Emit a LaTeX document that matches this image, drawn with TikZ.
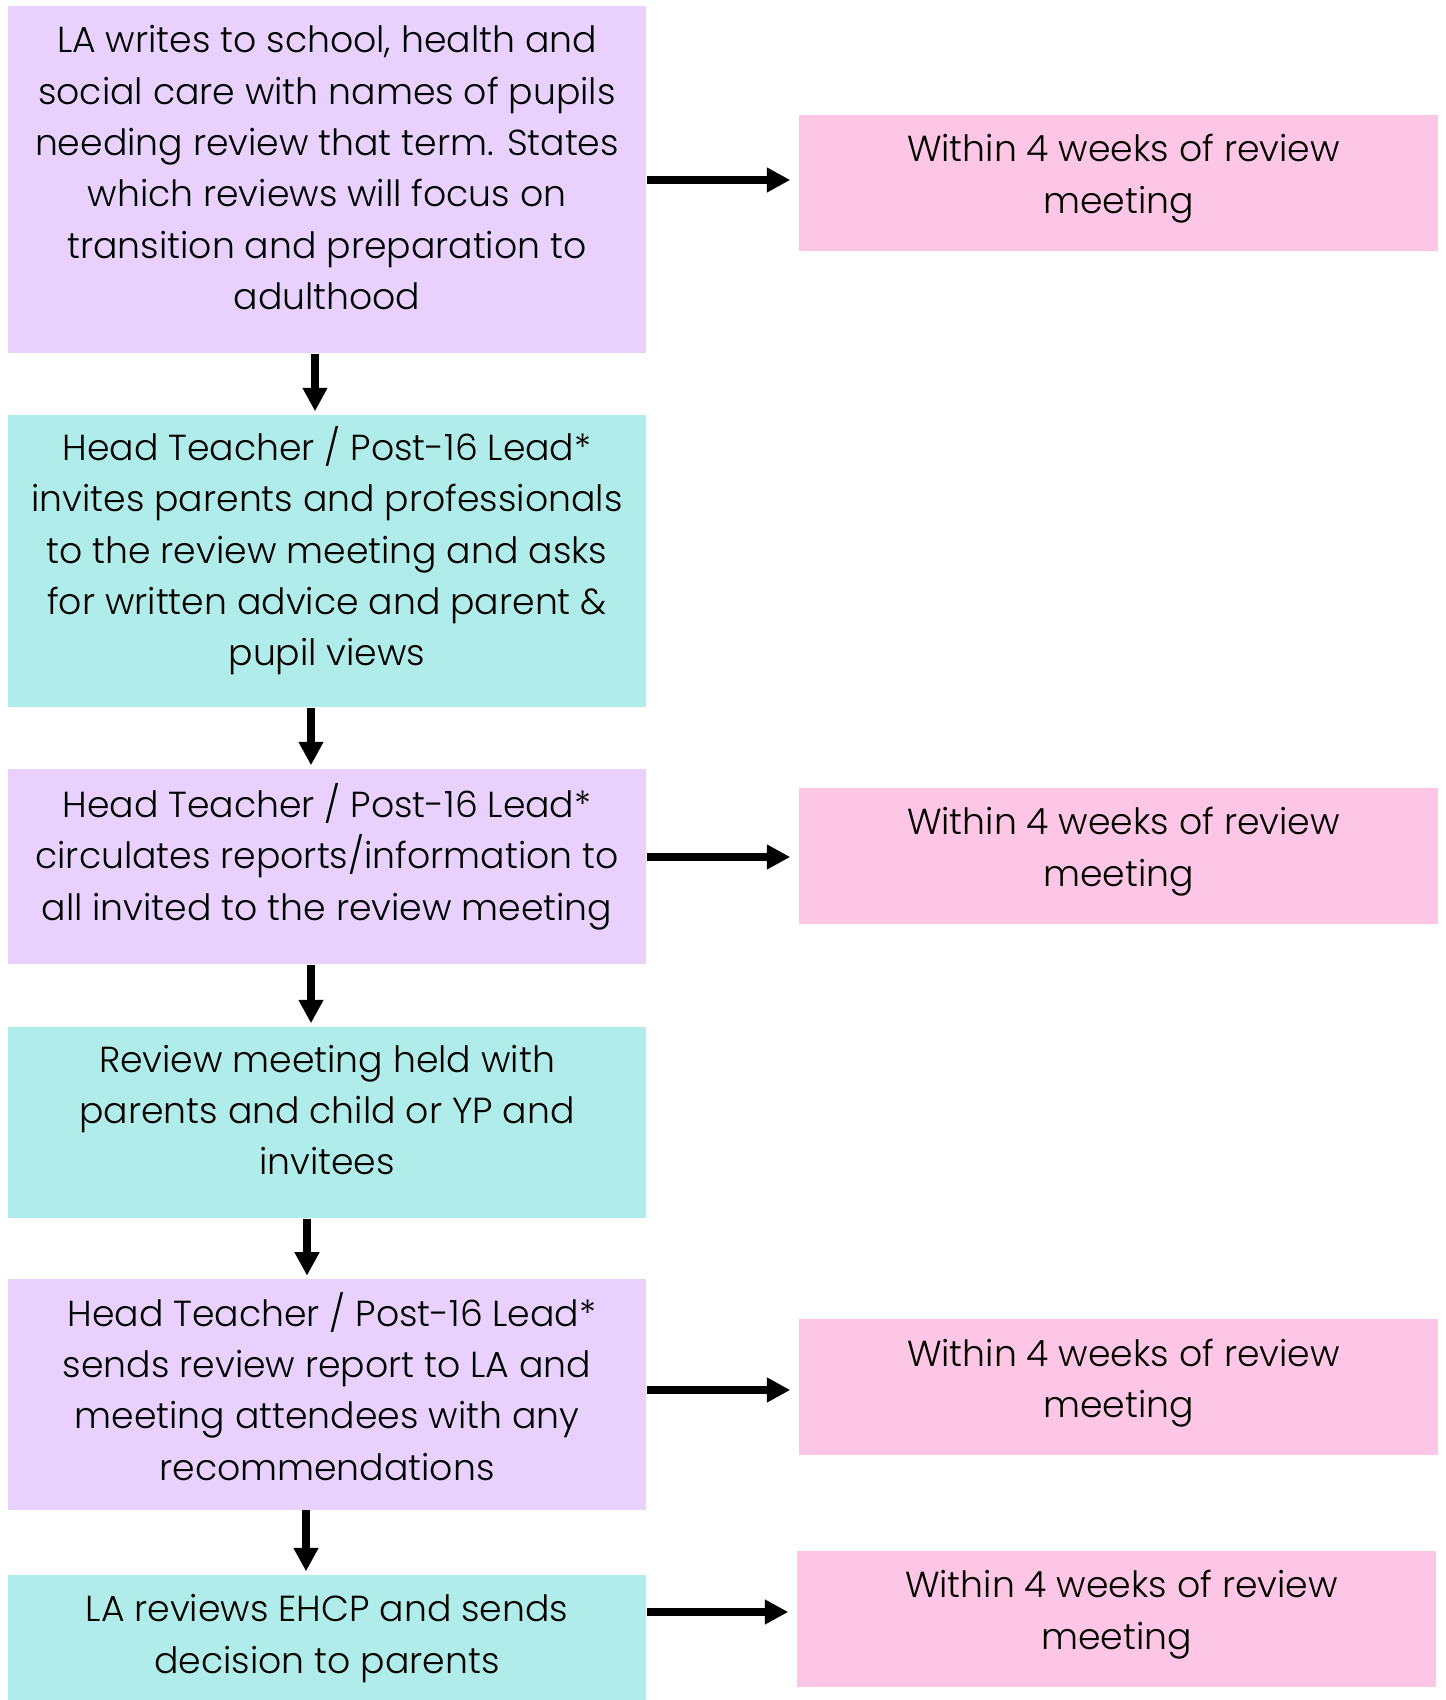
\documentclass[tikz,border=0pt]{standalone}
\usepackage{fontspec}
\setmainfont{Poppins Light}
\usetikzlibrary{arrows.meta, positioning, calc}

\definecolor{lilac}{RGB}{232,209,252}
\definecolor{aqua}{RGB}{176,236,234}
\definecolor{rose}{RGB}{252,198,228}

% fixed first/last line size, so that every box centres its lines alike
\newcommand{\tstrut}[1][0pt]{\rule[-8.4pt]{0pt}{\dimexpr17.4pt+#1\relax}}

\begin{document}
\begin{tikzpicture}[
    stage/.style={minimum width=6.38cm, inner sep=0pt, align=center,
        font=\fontsize{10.3}{14.6}\selectfont\setlength{\lineskiplimit}{-100pt}},
    lilacbox/.style={stage, fill=lilac},
    aquabox/.style={stage, fill=aqua},
    timebox/.style={stage, fill=rose, minimum width=6.39cm, minimum height=1.36cm},
    flow/.style={line width=2.4pt, -{Triangle[length=0.235cm, width=0.235cm]}, shorten >=0.03cm},
    across/.style={flow, shorten >=0.08cm}
]
    \useasboundingbox (0,0) rectangle (14.45,17);

    \node[lilacbox, minimum height=3.47cm] (write) at (3.27,15.20)
        {\tstrut LA writes to school, health and\\ social care with names of pupils\\ needing review that term. States\\ which reviews will focus on\\ transition and preparation to\\ adulthood\tstrut};
    \node[aquabox, minimum height=2.92cm] (invite) at (3.27,11.39)
        {\tstrut Head Teacher / Post-16 Lead*\\ invites parents and professionals\\ to the review meeting and asks\\ for written advice and parent \&\\ pupil views\tstrut};
    \node[lilacbox, minimum height=1.95cm] (circulate) at (3.27,8.335)
        {\tstrut Head Teacher / Post-16 Lead*\\ circulates reports/information to\\ all invited to the review meeting\tstrut};
    \node[aquabox, minimum height=1.91cm] (meeting) at (3.27,5.775)
        {\tstrut Review meeting held with\\ parents and child or YP and\\ invitees\tstrut};
    \node[lilacbox, minimum height=2.29cm] (report) at (3.27,3.055)
        {\tstrut[4.3pt] Head Teacher / Post-16 Lead*\\ sends review report to LA and\\ meeting attendees with any\\ recommendations\tstrut};
    \node[aquabox, minimum height=1.43cm] (decide) at (3.27,0.534)
        {\tstrut LA reviews EHCP and sends\\ decision to parents\tstrut};

    \node[timebox] (t1) at (11.185,15.17) {\tstrut[1.9pt] Within 4 weeks of review\\ meeting\tstrut};
    \node[timebox] (t2) at (11.185,8.44) {\tstrut[1.9pt] Within 4 weeks of review\\ meeting\tstrut};
    \node[timebox] (t3) at (11.185,3.125) {\tstrut[1.9pt] Within 4 weeks of review\\ meeting\tstrut};
    \node[timebox] (t4) at (11.165,0.81) {\tstrut[1.9pt] Within 4 weeks of review\\ meeting\tstrut};

    % down the left column
    \draw[flow] ([xshift=-0.12cm]write.south) -- ([xshift=-0.12cm]invite.north);
    \draw[flow] ([xshift=-0.16cm]invite.south) -- ([xshift=-0.16cm]circulate.north);
    \draw[flow] ([xshift=-0.16cm]circulate.south) -- ([xshift=-0.16cm]meeting.north);
    \draw[flow] ([xshift=-0.2cm]meeting.south) -- ([xshift=-0.2cm]report.north);
    \draw[flow] ([xshift=-0.21cm]report.south) -- ([xshift=-0.21cm]decide.north);

    % across to the time limits
    \draw[across] (write.east |- 0,15.20) -- (t1.west |- 0,15.20);
    \draw[across] (circulate.east |- 0,8.43) -- (t2.west |- 0,8.43);
    \draw[across] (report.east |- 0,3.10) -- (t3.west |- 0,3.10);
    \draw[across] (decide.east |- 0,0.88) -- (t4.west |- 0,0.88);
\end{tikzpicture}
\end{document}
